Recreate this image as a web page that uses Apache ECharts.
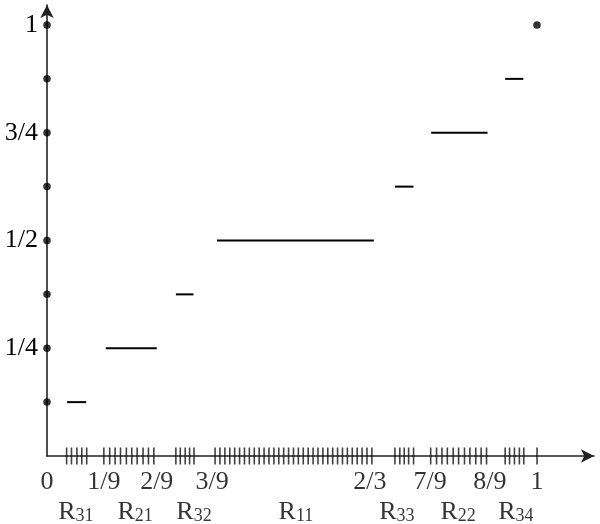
<!DOCTYPE html>
<html>
<head>
<meta charset="utf-8">
<script src="https://cdn.jsdelivr.net/npm/echarts@6/dist/echarts.min.js"></script>
<style>
html,body{margin:0;padding:0;background:#fff;}
#chart{width:600px;height:524px;}
</style>
</head>
<body>
<div id="chart"></div>
<script>
// Step levels (y) and the x extent of each horizontal segment
const levels = [0.125, 0.25, 0.375, 0.5, 0.625, 0.75, 0.875];
const segStart = [0.041, 0.120, 0.263, 0.347, 0.710, 0.784, 0.935];
const segEnd   = [0.080, 0.224, 0.299, 0.667, 0.748, 0.899, 0.972];

// Dots on the y axis and the end point
const axisDots = [0.125, 0.25, 0.375, 0.5, 0.625, 0.75, 0.875, 1];
const endPoint = [1, 1];

// Short vertical marks on the x axis, per region
const ticksR31 = [0.040, 0.050, 0.061, 0.071, 0.081];
const ticksR21 = [0.116, 0.128, 0.139, 0.150, 0.162, 0.173, 0.184, 0.196, 0.207, 0.218];
const ticksR32 = [0.263, 0.272, 0.282, 0.291, 0.300];
const ticksR11 = [0.343, 0.353, 0.363, 0.373, 0.383, 0.393, 0.403, 0.413, 0.423, 0.433, 0.443,
                  0.453, 0.463, 0.473, 0.483, 0.493, 0.503, 0.513, 0.523, 0.533, 0.543, 0.553,
                  0.563, 0.573, 0.583, 0.593, 0.603, 0.613, 0.623, 0.633, 0.643, 0.653, 0.663];
const ticksR33 = [0.710, 0.720, 0.729, 0.738, 0.748];
const ticksR22 = [0.783, 0.795, 0.806, 0.817, 0.829, 0.840, 0.852, 0.863, 0.875, 0.886, 0.897];
const ticksR34 = [0.935, 0.944, 0.954, 0.964, 0.973];
const ticksOne = [1];

// x tick labels
const xLabelValues = [0, 0.116, 0.224, 0.337, 0.659, 0.782, 0.904, 1.0];
const xLabelTexts  = ['0', '1/9', '2/9', '3/9', '2/3', '7/9', '8/9', '1'];

// region labels
const regionValues = [0.059, 0.180, 0.300, 0.508, 0.714, 0.839, 0.957];
const regionSubs   = ['31', '21', '32', '11', '33', '22', '34'];

// y tick labels
const yLabelValues = [0.25, 0.5, 0.75, 1];
const yLabelTexts  = ['1/4', '1/2', '3/4', '1'];

const FONT = '"Liberation Serif", "Times New Roman", serif';
const INK = '#000';

const chart = echarts.init(document.getElementById('chart'), null, {renderer: 'canvas'});

const series = [];
levels.forEach((y, i) => {
  series.push({
    type: 'line', symbol: 'none', silent: true, clip: false,
    lineStyle: {color: INK, width: 2},
    data: [[segStart[i], y], [segEnd[i], y]]
  });
});

const allTicks = [].concat(ticksR31, ticksR21, ticksR32, ticksR11, ticksR33, ticksR22, ticksR34, ticksOne);
series.push({
  type: 'scatter', clip: false, silent: true,
  symbol: 'rect', symbolSize: [1.6, 17],
  itemStyle: {color: '#111'},
  data: allTicks.map(x => [x, 0])
});

series.push({
  type: 'scatter', clip: false, silent: true,
  symbol: 'circle', symbolSize: 7.5,
  itemStyle: {color: INK},
  data: axisDots.map(y => [0, y]).concat([endPoint])
});

series.push({
  type: 'scatter', clip: false, silent: true,
  symbolSize: 1, itemStyle: {color: 'rgba(0,0,0,0)'},
  label: {
    show: true, position: 'inside', offset: [0, 26],
    fontFamily: FONT, fontSize: 26, color: INK,
    formatter: p => p.data[2]
  },
  data: xLabelValues.map((x, i) => [x, 0, xLabelTexts[i]])
});

series.push({
  type: 'scatter', clip: false, silent: true,
  symbolSize: 1, itemStyle: {color: 'rgba(0,0,0,0)'},
  label: {
    show: true, position: 'inside', offset: [0, 56],
    color: INK,
    formatter: p => '{a|R}{b|' + p.data[2] + '}',
    rich: {
      a: {fontFamily: FONT, fontSize: 26, color: INK, lineHeight: 26, verticalAlign: 'top'},
      b: {fontFamily: FONT, fontSize: 18, color: INK, lineHeight: 14, verticalAlign: 'bottom'}
    }
  },
  data: regionValues.map((x, i) => [x, 0, regionSubs[i]])
});

chart.setOption({
  animation: false,
  backgroundColor: '#fff',
  grid: {left: 47, right: 6, top: 5, bottom: 68, containLabel: false},
  xAxis: {
    type: 'value', min: 0, max: 1.1163,
    axisLine: {show: true, onZero: false, lineStyle: {color: '#222', width: 1.6}, symbol: ['none', 'arrow'], symbolSize: [10, 13]},
    axisTick: {show: false}, axisLabel: {show: false}, splitLine: {show: false}
  },
  yAxis: {
    type: 'value', min: 0, max: 1.0464, interval: 0.125,
    axisLine: {show: true, onZero: false, lineStyle: {color: '#222', width: 1.6}, symbol: ['none', 'arrow'], symbolSize: [10, 13]},
    axisTick: {show: false}, splitLine: {show: false},
    axisLabel: {
      show: true, margin: 9, showMaxLabel: false,
      fontFamily: FONT, fontSize: 26, color: INK,
      formatter: v => {
        const i = yLabelValues.findIndex(t => Math.abs(t - v) < 1e-6);
        return i >= 0 ? yLabelTexts[i] : '';
      }
    }
  },
  series: series
});
</script>
</body>
</html>
